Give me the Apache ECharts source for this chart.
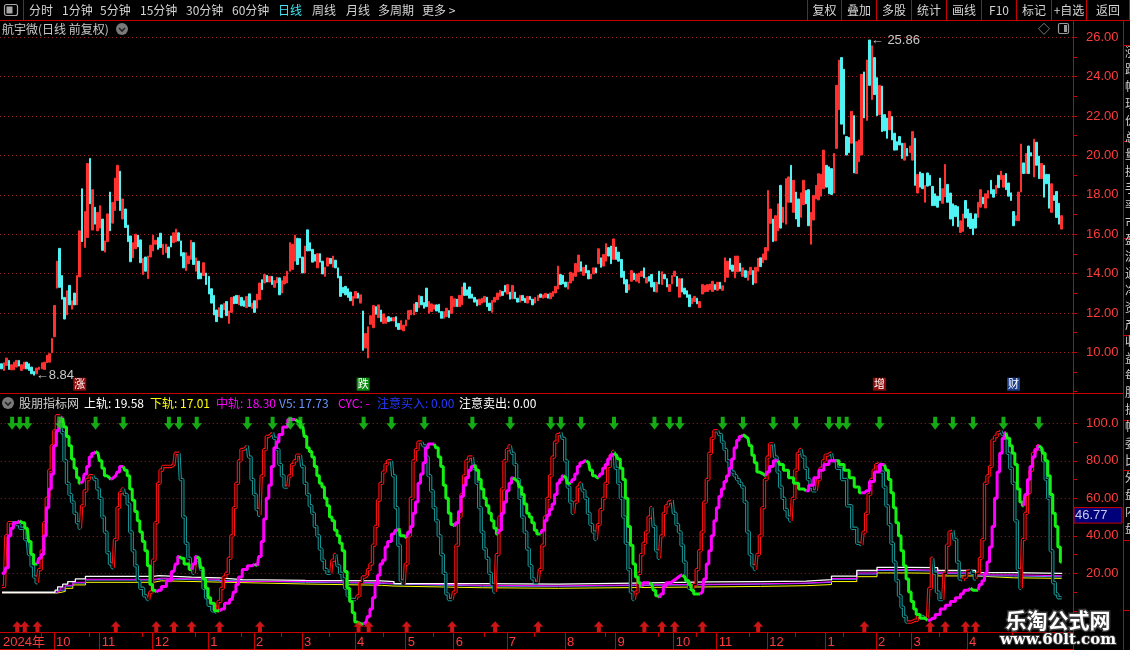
<!DOCTYPE html>
<html>
<head>
<meta charset="utf-8">
<title>航宇微 日线</title>
<style>
html,body{margin:0;padding:0;background:#000;overflow:hidden;}
#main{width:1130px;height:650px;}
</style>
</head>
<body>
<div id="main"></div>
<script src="https://cdn.jsdelivr.net/npm/echarts@6.0.0/dist/echarts.min.js"></script>
<script>
// 日K：每根 [开盘, 收盘]
var candles = [
[9.42,9.16],[9.08,9.47],[9.33,9.71],[9.59,9.13],[9.11,9.37],[9.11,9.50],[9.25,9.59],[9.59,9.30],[9.08,9.37],[9.16,9.50],
[9.50,9.16],[9.42,9.08],[9.25,8.91],[9.03,8.84],[8.91,9.20],[9.13,9.25],[9.16,9.47],[9.13,9.50],[9.47,9.85],[9.50,9.93],
[9.97,10.70],[10.79,12.38],[13.26,14.63],[15.28,13.30],[13.90,12.70],[12.79,11.69],[11.90,13.13],[13.40,12.41],[12.19,12.62],[13.01,12.41],
[12.41,13.90],[13.83,16.17],[18.31,15.62],[15.32,17.15],[15.83,19.59],[19.85,17.54],[16.21,18.26],[17.37,16.51],[16.17,17.11],[16.31,17.45],
[16.77,15.18],[15.09,15.66],[15.62,17.03],[18.14,16.17],[16.56,17.62],[17.20,18.85],[17.71,19.50],[19.20,17.20],[16.77,17.79],[17.28,16.34],
[16.46,15.62],[15.91,14.60],[14.80,15.57],[15.26,16.00],[15.95,15.35],[15.71,14.55],[13.95,14.77],[14.84,14.12],[13.74,14.89],[14.84,15.44],
[15.15,15.95],[15.49,15.69],[15.83,15.23],[16.05,15.32],[14.97,15.49],[15.06,15.49],[15.35,14.80],[15.91,15.35],[15.57,16.07],[15.62,16.26],
[16.07,15.66],[15.66,14.89],[15.06,14.29],[14.15,15.06],[14.50,14.89],[14.72,15.69],[15.57,14.46],[14.12,14.80],[14.63,13.73],[14.03,13.73],
[13.90,14.55],[14.03,13.44],[13.86,12.96],[13.23,12.50],[12.89,11.90],[12.15,11.56],[11.81,12.27],[12.41,11.76],[12.15,12.48],[12.58,11.86],
[11.47,12.10],[12.03,12.79],[12.84,12.46],[12.89,12.48],[12.41,12.89],[12.79,12.36],[12.62,12.33],[12.27,12.84],[12.97,12.33],[12.24,12.50],
[12.62,12.03],[12.24,12.96],[12.67,13.52],[13.69,13.18],[13.52,13.95],[13.91,13.57],[13.57,13.86],[13.86,13.44],[13.30,13.64],[13.52,13.81],
[13.78,12.92],[13.01,13.64],[13.47,13.86],[13.52,14.12],[14.12,15.57],[14.21,15.49],[14.63,15.95],[15.79,14.46],[15.78,14.80],[14.84,14.03],
[14.03,15.40],[16.22,15.15],[15.57,15.15],[15.23,14.58],[14.97,14.63],[14.29,15.01],[15.01,14.58],[14.63,13.98],[13.86,14.32],[14.38,14.80],
[14.77,14.50],[14.32,14.89],[14.68,14.29],[14.29,13.78],[13.86,12.84],[13.30,13.01],[13.35,12.92],[13.23,12.79],[13.06,12.62],[12.38,12.84],
[12.75,13.09],[13.01,12.75],[12.50,12.92],[12.10,10.10],[10.22,10.96],[9.71,11.30],[11.42,11.86],[11.25,12.38],[12.32,11.93],[11.76,12.41],
[12.15,11.56],[11.47,11.95],[11.47,11.76],[11.81,11.56],[11.76,11.59],[11.59,11.76],[11.81,11.30],[11.47,11.16],[11.16,11.61],[11.09,11.38],
[11.35,11.64],[11.68,12.12],[11.90,12.15],[11.90,12.46],[12.53,12.07],[12.27,12.89],[12.84,12.41],[12.53,12.24],[13.26,12.32],[11.98,12.58],
[12.07,12.46],[12.19,12.41],[12.41,12.10],[12.44,12.03],[12.07,11.73],[11.73,12.07],[11.81,12.24],[12.12,11.76],[11.98,12.84],[12.32,12.72],
[12.70,12.32],[12.32,12.89],[12.41,13.32],[13.52,12.89],[13.18,12.89],[13.32,12.75],[12.96,12.75],[12.79,12.55],[12.67,12.36],[12.41,12.70],
[12.50,12.75],[12.55,12.84],[12.80,12.32],[12.50,12.12],[12.03,12.63],[12.55,12.79],[12.67,13.01],[12.84,13.15],[13.09,12.89],[13.40,13.06],
[12.96,13.44],[13.06,12.70],[12.72,13.40],[13.06,12.72],[12.75,12.55],[12.55,12.89],[12.89,12.63],[12.75,12.53],[12.50,12.84],[12.84,12.67],
[12.70,12.41],[12.50,12.79],[12.62,12.89],[12.96,12.79],[12.75,12.92],[12.79,12.99],[12.96,12.75],[12.72,13.01],[12.84,13.09],[13.01,13.35],
[13.21,14.38],[13.95,13.44],[13.91,13.47],[13.57,13.32],[13.21,13.57],[13.52,14.07],[13.64,14.03],[13.86,14.51],[14.09,14.94],[14.60,14.12],
[13.91,14.32],[14.43,14.03],[14.15,13.73],[13.73,13.98],[13.98,14.29],[14.29,14.03],[14.50,15.26],[14.80,14.32],[14.38,14.97],[14.63,15.52],
[15.32,14.89],[15.40,14.50],[14.72,15.76],[15.35,14.72],[15.09,14.63],[14.72,13.81],[14.12,13.47],[13.69,13.04],[13.16,13.44],[13.61,14.15],
[14.03,13.69],[13.61,13.98],[13.52,14.03],[13.86,14.12],[14.29,13.78],[13.52,13.81],[13.86,13.61],[13.95,13.32],[13.56,13.09],[13.06,13.56],
[14.12,13.47],[13.44,14.09],[13.95,13.73],[13.74,13.32],[13.09,13.44],[13.47,13.90],[13.86,14.12],[13.86,13.35],[12.80,13.74],[13.74,13.06],
[13.26,12.96],[13.13,12.79],[12.92,12.32],[12.46,12.75],[12.58,12.84],[12.75,12.46],[12.27,12.58],[12.96,13.44],[13.06,13.40],[13.09,13.44],
[13.18,13.47],[13.09,13.61],[13.44,13.18],[13.15,13.56],[13.56,13.23],[13.15,13.38],[13.57,14.80],[13.81,14.63],[14.77,14.21],[14.43,14.12],
[13.78,14.89],[14.09,14.89],[14.53,14.12],[13.86,14.29],[14.15,13.81],[13.66,14.12],[13.95,14.32],[14.15,13.44],[13.52,14.32],[14.12,14.77],
[14.80,14.35],[14.55,15.00],[14.70,15.32],[15.15,18.22],[16.55,17.28],[16.77,15.62],[15.66,16.94],[16.17,17.54],[18.48,16.31],[16.60,17.37],
[16.51,18.82],[17.62,18.91],[19.50,17.62],[17.11,18.74],[18.14,16.77],[17.79,16.39],[16.86,18.10],[17.50,18.74],[18.22,17.54],[18.26,16.43],
[15.49,17.11],[16.72,17.97],[17.79,18.48],[17.74,19.07],[17.93,19.04],[18.31,20.27],[19.50,18.39],[19.42,18.05],[19.33,18.02],[18.09,20.10],
[20.36,23.56],[22.32,24.84],[24.97,21.59],[24.38,21.08],[20.96,20.02],[20.92,20.14],[20.62,22.24],[22.02,19.11],[19.08,20.70],[19.68,20.79],
[20.02,24.12],[24.24,21.90],[21.78,24.85],[25.86,23.56],[22.84,25.57],[24.97,23.09],[23.95,22.02],[22.07,23.56],[23.52,21.21],[22.07,21.25],
[21.90,20.87],[21.30,22.24],[21.98,20.79],[21.13,20.27],[20.70,20.27],[20.96,20.53],[20.62,19.85],[19.76,20.62],[20.36,19.97],[20.14,20.48],
[19.76,21.21],[20.87,18.48],[18.09,19.04],[19.16,18.39],[19.08,18.31],[17.62,18.48],[19.11,18.44],[18.99,18.48],[18.43,17.45],[18.05,17.45],
[17.93,17.37],[18.85,17.71],[17.57,18.31],[17.89,19.54],[18.53,17.62],[18.09,16.77],[17.54,16.43],[17.45,16.89],[17.40,16.38],[16.09,16.68],
[16.14,17.03],[17.71,16.82],[17.28,16.38],[17.06,16.29],[16.77,15.97],[17.03,16.31],[16.85,17.62],[17.37,18.26],[17.88,17.54],[17.33,18.05],
[17.83,18.22],[18.74,18.05],[18.26,17.88],[18.05,18.48],[18.99,18.36],[18.77,19.21],[18.39,18.99],[19.08,18.26],[18.60,17.93],[18.10,17.71],
[17.15,16.43],[16.68,16.94],[16.68,18.14],[18.14,20.58],[19.62,19.08],[19.08,20.10],[20.48,19.08],[20.14,19.97],[18.91,20.82],[20.67,19.50],
[19.97,18.82],[18.82,19.59],[19.50,17.88],[19.04,18.56],[19.04,17.32],[17.11,18.56],[17.97,17.71],[18.17,16.85],[17.57,16.51],[16.26,16.94]
];
var barCount = 424;

// 月份刻度 [K线序号, 文字]
var monthTicks = [[0,'2024年'],[21,'10'],[39,'11'],[60,'12'],[82,'1'],[100,'2'],[119,'3'],[140,'4'],[160,'5'],[179,'6'],
  [200,'7'],[223,'8'],[243,'9'],[266,'10'],[283,'11'],[303,'12'],[326,'1'],[346,'2'],[360,'3'],[382,'4']];
var minorTicks = [16,35,56,77,95,111,130,151,171,191,211,239,260,275,296,314,333,355,371,400];

// 图上的事件标记
var events = [[31,'涨'],[143,'跌'],[347,'增'],[400,'财']];

// 指标：慢线（粗线，升紫降绿） [序号, 值]
var slowLine = [[0,20],[1,20],[2,23],[3,40],[4,44],[5,47],[7,48],[8,47],[10,44],[11,37],[12,30],[13,25],[14,25],[15,28],[16,30],[17,40],[18,55],[19,65],[20,73],[21,88],[22,96],[23,101],[24,103],[25,98],[26,93],[27,88],[28,81],[29,76],[30,71],[31,68],[32,69],[33,73],[34,77],[35,82],[36,84],[37,85],[38,84],[39,80],[40,76],[41,72],[42,71],[43,70],[44,71],[45,72],[46,74],[47,77],[48,77],[49,75],[50,72],[51,65],[52,59],[53,53],[54,48],[55,42],[56,37],[57,32],[58,24],[59,14],[60,11],[61,10],[62,11],[64,13],[66,16],[68,21],[69,25],[70,29],[71,28],[73,25],[75,22],[76,25],[77,29],[78,28],[79,23],[80,17],[81,12],[82,7],[83,4],[85,0],[86,0],[87,1],[89,4],[91,6],[92,10],[93,14],[94,18],[96,22],[98,24],[100,25],[101,24],[102,29],[103,37],[104,49],[105,60],[106,67],[107,77],[108,87],[109,90],[110,94],[112,98],[114,102],[116,102],[117,101],[119,98],[120,93],[121,87],[122,85],[123,82],[124,77],[125,72],[126,68],[127,66],[128,60],[129,56],[130,50],[131,48],[132,43],[133,40],[134,36],[135,32],[136,21],[137,12],[138,5],[139,-1],[140,-6],[141,-7],[143,-7],[144,-6],[145,-3],[146,1],[147,7],[148,14],[149,19],[150,25],[151,27],[152,34],[153,37],[155,41],[156,43],[157,44],[158,40],[160,39],[161,42],[162,45],[163,52],[164,58],[165,68],[166,73],[167,79],[168,87],[169,89],[171,89],[172,87],[173,82],[174,77],[175,67],[176,60],[177,52],[178,46],[179,45],[180,47],[181,53],[182,61],[183,67],[184,71],[185,75],[186,77],[187,78],[188,75],[189,70],[190,65],[191,60],[192,56],[193,52],[194,48],[195,44],[196,41],[197,43],[198,52],[199,58],[200,64],[201,68],[202,71],[203,70],[204,69],[205,66],[206,62],[207,57],[208,52],[209,50],[210,47],[211,43],[212,41],[213,41],[214,43],[215,48],[216,51],[217,54],[218,57],[219,62],[220,68],[221,70],[222,72],[223,71],[224,68],[225,68],[226,70],[227,73],[228,77],[229,79],[230,80],[231,80],[232,79],[233,75],[234,72],[235,71],[236,71],[237,73],[238,76],[239,78],[240,81],[241,83],[242,84],[243,83],[244,81],[245,76],[246,70],[247,60],[248,45],[249,35],[250,25],[251,18],[252,15],[253,13],[254,15],[256,15],[257,14],[258,11],[259,8],[260,7],[261,9],[262,13],[263,15],[264,15],[265,16],[266,17],[267,18],[268,19],[269,19],[270,18],[271,16],[272,14],[273,11],[274,9],[276,9],[277,10],[278,17],[279,25],[280,32],[281,40],[282,48],[283,55],[284,61],[285,65],[286,69],[287,72],[288,76],[289,81],[290,87],[291,91],[292,93],[293,94],[294,93],[295,92],[296,88],[297,83],[298,79],[299,74],[300,73],[302,72],[303,74],[304,77],[306,80],[307,80],[308,78],[310,75],[312,71],[314,68],[316,65],[318,64],[320,67],[322,71],[324,75],[326,78],[328,80],[330,80],[332,78],[334,75],[336,71],[338,66],[340,63],[342,64],[344,69],[346,74],[348,78],[349,78],[350,75],[351,70],[352,63],[353,55],[354,47],[355,40],[356,32],[357,24],[358,17],[359,10],[360,5],[361,1],[362,-2],[364,-4],[366,-5],[368,-4],[370,-2],[372,1],[374,3],[376,5],[378,7],[380,9],[381,11],[383,12],[384,11],[386,11],[387,14],[388,16],[389,20],[390,26],[391,34],[392,45],[393,60],[394,74],[395,84],[396,92],[397,95],[398,92],[399,88],[400,84],[401,78],[402,65],[403,58],[404,56],[405,62],[406,70],[407,77],[408,82],[409,86],[410,88],[411,87],[412,84],[413,80],[414,72],[415,62],[416,52],[417,45],[418,34],[419,26]];

// 指标：快线（空心线，升红降青） [序号, 值]
var fastLine = [[0,13],[1,13],[2,40],[3,47],[4,47],[6,46],[8,44],[10,38],[11,30],[12,24],[13,18],[14,15],[15,22],[16,32],[17,47],[18,60],[19,75],[20,88],[21,96],[22,104],[23,104],[24,95],[25,80],[26,68],[27,62],[28,58],[29,52],[30,47],[31,44],[32,56],[33,64],[34,70],[35,72],[36,72],[37,70],[38,65],[39,60],[40,50],[41,42],[42,31],[43,25],[44,23],[45,38],[46,55],[47,63],[48,65],[49,62],[50,57],[51,42],[52,32],[53,24],[54,16],[55,12],[57,8],[58,6],[59,10],[60,27],[61,47],[62,68],[63,75],[64,77],[66,77],[68,78],[69,84],[70,84],[71,70],[72,50],[73,36],[74,28],[75,22],[76,20],[77,27],[78,28],[79,22],[80,12],[81,7],[82,3],[84,0],[85,-1],[86,5],[87,12],[88,18],[89,20],[90,28],[91,40],[92,55],[93,68],[94,80],[95,86],[96,87],[97,88],[98,82],[99,70],[100,62],[101,54],[102,51],[103,72],[104,86],[105,93],[106,94],[107,95],[108,92],[109,86],[110,78],[111,72],[112,66],[113,66],[114,72],[115,78],[116,80],[117,83],[118,83],[119,77],[120,68],[121,62],[122,56],[123,52],[124,45],[125,40],[126,33],[127,27],[128,22],[129,20],[130,20],[131,27],[132,30],[133,24],[134,20],[135,17],[136,12],[137,8],[138,6],[140,6],[141,8],[142,15],[143,18],[144,19],[145,22],[146,25],[147,35],[148,45],[149,59],[150,68],[151,74],[152,78],[153,80],[154,80],[155,72],[156,55],[157,35],[158,16],[159,14],[160,25],[161,40],[162,60],[163,80],[164,86],[165,90],[166,90],[167,88],[168,82],[169,72],[170,64],[171,55],[172,48],[173,40],[174,30],[175,20],[176,9],[177,6],[178,6],[179,10],[180,35],[181,50],[182,62],[183,72],[184,80],[185,82],[186,82],[187,76],[188,68],[189,55],[190,42],[191,33],[192,28],[193,20],[194,14],[195,10],[196,30],[197,50],[198,65],[199,80],[200,86],[201,88],[202,84],[203,78],[204,70],[205,60],[206,50],[207,42],[208,33],[209,24],[210,17],[211,15],[212,15],[213,22],[214,35],[215,50],[216,60],[217,72],[218,82],[219,90],[220,94],[221,95],[222,92],[223,80],[224,66],[225,58],[226,52],[227,58],[228,66],[229,68],[230,64],[231,60],[232,52],[233,46],[234,42],[235,38],[236,46],[237,54],[238,60],[239,68],[240,77],[241,83],[242,85],[243,76],[244,68],[245,60],[246,50],[247,36],[248,22],[249,10],[250,6],[251,10],[252,20],[253,30],[254,36],[255,42],[256,50],[257,55],[258,45],[259,32],[260,28],[261,40],[262,52],[263,56],[264,58],[265,59],[266,52],[267,46],[268,42],[269,35],[270,26],[271,16],[272,12],[273,11],[274,14],[275,22],[276,32],[277,42],[278,58],[279,70],[280,84],[281,92],[282,96],[283,96],[284,94],[285,90],[286,86],[287,80],[288,76],[289,74],[290,72],[291,70],[292,68],[293,66],[294,58],[295,42],[296,30],[297,24],[298,22],[299,30],[300,40],[301,55],[302,70],[303,82],[304,89],[305,89],[306,82],[307,74],[308,66],[309,60],[310,54],[311,50],[312,48],[313,60],[314,75],[315,84],[316,86],[317,82],[318,76],[319,70],[320,66],[321,64],[322,64],[323,70],[324,76],[325,80],[326,83],[327,84],[328,84],[329,80],[331,76],[333,70],[335,56],[337,44],[339,36],[340,35],[341,42],[342,52],[343,62],[344,70],[345,75],[346,78],[347,79],[348,74],[349,66],[350,56],[351,46],[352,36],[353,26],[354,16],[355,8],[356,2],[357,-3],[358,-6],[361,-5],[363,-3],[365,-4],[366,-4],[367,12],[368,28],[369,20],[370,10],[371,6],[372,6],[373,20],[374,35],[375,42],[376,43],[377,38],[378,26],[379,17],[380,16],[381,18],[382,21],[383,22],[384,20],[385,17],[386,20],[387,28],[388,38],[389,68],[390,72],[391,77],[392,91],[393,93],[394,95],[395,96],[396,94],[397,92],[398,84],[399,76],[400,68],[401,48],[402,22],[403,12],[404,38],[405,52],[406,63],[407,75],[408,84],[409,86],[410,88],[411,86],[412,80],[413,70],[414,60],[415,32],[416,15],[417,9],[418,7],[419,7]];

// 通道线 [序号, 值]
var upperBand = [[0,9.9],[20,9.9],[21,11],[22,12.8],[24,14.2],[26,15.6],[29,17],[33,18.4],[60,18.8],[62,18],[75,17.6],[86,16.6],[95,16.2],[120,16.0],[150,15.6],[155,14.5],[190,14.2],[220,14.8],[250,15.4],[280,15.6],[300,15.8],[318,16.6],[328,18.5],[338,21.5],[346,23.2],[358,23.0],[370,21.5],[385,20.4],[400,20.0],[419,19.58]];
var midBand = [[0,9.7],[20,9.7],[21,10.5],[23,12.2],[25,13.6],[28,15.2],[33,16.8],[60,17.4],[63,16.8],[86,15.6],[120,15.0],[150,14.6],[155,13.6],[190,13.3],[220,13.8],[250,14.4],[300,14.8],[318,15.5],[328,17.2],[338,20.2],[346,22.0],[358,21.7],[370,20.3],[385,19.2],[400,18.7],[419,18.30]];
var v5Band = [[0,9.6],[20,9.6],[22,11],[25,13.2],[28,14.8],[33,16.4],[60,17.0],[64,16.2],[86,15.2],[120,14.6],[150,14.2],[156,13.2],[190,13.0],[220,13.5],[250,14.2],[300,14.6],[318,15.2],[328,16.8],[338,19.6],[346,21.5],[358,21.2],[370,19.8],[385,18.6],[400,18.1],[419,17.73]];
var lowerBand = [[0,9.5],[20,9.5],[22,10.3],[25,12],[28,13.8],[33,15.2],[60,16.0],[63,15.3],[86,14.3],[120,13.6],[150,13.2],[155,12.3],[190,12.0],[220,12.4],[250,13.0],[300,13.4],[318,14.0],[328,15.6],[338,18.2],[346,20.2],[358,20.0],[370,18.6],[385,17.6],[400,17.3],[419,17.01]];

// 买卖箭头所在K线
var sellSignals = [4,7,10,23,37,48,66,70,77,97,107,114,118,143,154,167,186,201,217,221,229,242,258,264,268,285,293,305,314,327,331,334,347,369,376,384,396,410];
var buySignals = [6,9,14,45,61,68,75,86,102,141,145,160,178,195,212,236,254,261,266,277,299,341,367,373,381,385];

var cursorValue = 46.77;

// ---------------------------------------------------------------
var RED = '#c80000', LBL = '#ff3c3c', DOT = '#9c1c1c';
var NUMFONT = '"Liberation Sans","Noto Sans CJK SC",sans-serif';
var CJKFONT = '"Noto Sans CJK SC","Liberation Sans",sans-serif';

var cats = [];
for (var i = 0; i < barCount; i++) cats.push(String(i));

var kData = candles.map(function (c) {
  return [c[0], c[1], Math.min(c[0], c[1]), Math.max(c[0], c[1])];
});

// 最高、最低点
var lowIdx = 0, highIdx = 0;
kData.forEach(function (k, idx) {
  if (k[2] < kData[lowIdx][2]) lowIdx = idx;
  if (k[3] > kData[highIdx][3]) highIdx = idx;
});

var tickMap = {};
monthTicks.forEach(function (m) { tickMap[m[0]] = m[1]; });

var eventColor = { '涨': '#8e0b0b', '跌': '#0b8a10', '增': '#8e0b0b', '财': '#1b3f8f' };

// 按升降切段
function splitRuns(pts) {
  var out = [], cur = [pts[0]], dir = 0;
  for (var k = 1; k < pts.length; k++) {
    var d = pts[k][1] > pts[k - 1][1] ? 1 : (pts[k][1] < pts[k - 1][1] ? -1 : dir);
    if (d === 0) d = 1;
    if (dir !== 0 && d !== dir) {
      out.push({ up: dir > 0, pts: cur });
      cur = [pts[k - 1]];
    }
    dir = d;
    cur.push(pts[k]);
  }
  out.push({ up: dir > 0, pts: cur });
  return out;
}

var series = [];

series.push({
  type: 'candlestick', xAxisIndex: 0, yAxisIndex: 0, data: kData, barWidth: 2, z: 3,
  itemStyle: { color: '#ff3030', color0: '#4ff3f3', borderColor: '#ff3030', borderColor0: '#4ff3f3', borderWidth: 1 },
  markPoint: {
    silent: true, animation: false,
    data: [
      { coord: [lowIdx, kData[lowIdx][2]], symbol: 'circle', symbolSize: 1, itemStyle: { color: 'rgba(0,0,0,0)' },
        label: { show: true, position: 'right', distance: 1, formatter: '\u2190' + kData[lowIdx][2].toFixed(2), color: '#c8c8c8', fontSize: 13, fontFamily: NUMFONT } },
      { coord: [highIdx, kData[highIdx][3]], symbol: 'circle', symbolSize: 1, itemStyle: { color: 'rgba(0,0,0,0)' },
        label: { show: true, position: 'right', distance: 1, formatter: '\u2190 ' + kData[highIdx][3].toFixed(2), color: '#c8c8c8', fontSize: 13, fontFamily: NUMFONT } }
    ].concat(events.map(function (e) {
      return { coord: [e[0], 8], symbol: 'rect', symbolSize: [13, 13], symbolOffset: [0, -7.5],
        itemStyle: { color: eventColor[e[1]] },
        label: { show: true, position: 'inside', formatter: e[1], color: '#fff', fontSize: 11, fontFamily: CJKFONT } };
    }))
  }
});

function bandSeries(data, color, w) {
  return { type: 'line', xAxisIndex: 1, yAxisIndex: 1, data: data, step: 'end', showSymbol: false, clip: false,
    lineStyle: { color: color, width: w || 1 }, z: 2, silent: true };
}
series.push(bandSeries(lowerBand, '#ffff00'));
series.push(bandSeries(v5Band, '#5a8cff'));
series.push(bandSeries(midBand, '#ff00ff'));
series.push(bandSeries(upperBand, '#ffffff', 1.3));

splitRuns(fastLine).forEach(function (r) {
  series.push({ type: 'line', xAxisIndex: 1, yAxisIndex: 1, data: r.pts, step: 'middle', showSymbol: false, clip: false, silent: true,
    lineStyle: { color: r.up ? '#ff1010' : '#168f8f', width: 3.4 }, z: 3 });
  series.push({ type: 'line', xAxisIndex: 1, yAxisIndex: 1, data: r.pts, step: 'middle', showSymbol: false, clip: false, silent: true,
    lineStyle: { color: '#000', width: 1.2 }, z: 4 });
});

splitRuns(slowLine).forEach(function (r) {
  series.push({ type: 'line', xAxisIndex: 1, yAxisIndex: 1, data: r.pts, step: 'middle', showSymbol: false, clip: false, silent: true,
    lineStyle: { color: r.up ? '#ff00ff' : '#14f014', width: 3 }, z: 5 });
});

series.push({
  type: 'scatter', xAxisIndex: 1, yAxisIndex: 1, clip: false, silent: true, z: 6,
  data: sellSignals.map(function (s) { return [s, 100]; }),
  symbol: 'path://M3,0 L7,0 L7,6 L10,6 L5,12 L0,6 L3,6 Z', symbolSize: [10, 13],
  itemStyle: { color: '#19d419' }
});
series.push({
  type: 'scatter', xAxisIndex: 1, yAxisIndex: 1, clip: false, silent: true, z: 6,
  data: buySignals.map(function (s) { return [s, -8.5]; }),
  symbol: 'path://M5,0 L10,6 L7,6 L7,12 L3,12 L3,6 L0,6 Z', symbolSize: [10, 11],
  itemStyle: { color: '#ff1a1a' }
});

var chart = echarts.init(document.getElementById('main'));
chart.setOption({
  animation: false,
  backgroundColor: '#000',
  grid: [
    { left: 0, right: 57, top: 37.3, height: 354.4 },
    { left: 0, right: 57, top: 423.3, height: 187.5 }
  ],
  xAxis: [
    { type: 'category', gridIndex: 0, data: cats, show: false },
    { type: 'category', gridIndex: 1, data: cats, position: 'bottom', offset: 22,
      axisLine: { show: false },
      axisTick: { show: false },
      axisLabel: { interval: function (idx) { return tickMap[idx] !== undefined; },
        formatter: function (v, idx) { return tickMap[idx] || ''; },
        align: 'left', margin: 3, padding: [0, 0, 0, 1], color: LBL, fontSize: 13, fontFamily: NUMFONT } }
  ],
  yAxis: [
    { type: 'value', gridIndex: 0, position: 'right', min: 8, max: 26, interval: 2,
      axisLine: { show: true, lineStyle: { color: RED } },
      axisTick: { show: true, length: 4, lineStyle: { color: RED } },
      minorTick: { show: true, splitNumber: 2, length: 4, lineStyle: { color: RED } },
      axisLabel: { color: LBL, fontSize: 13, margin: 13, fontFamily: NUMFONT,
        formatter: function (v) { return v === 8 ? '' : v.toFixed(2); } },
      splitLine: { show: true, showMinLine: false, lineStyle: { color: DOT, type: [1, 3] } } },
    { type: 'value', gridIndex: 1, position: 'right', min: 0, max: 100, interval: 20,
      axisLine: { show: true, lineStyle: { color: RED } },
      axisTick: { show: true, length: 4, lineStyle: { color: RED } },
      minorTick: { show: true, splitNumber: 2, length: 4, lineStyle: { color: RED } },
      axisLabel: { color: LBL, fontSize: 13, margin: 13, fontFamily: NUMFONT,
        formatter: function (v) { return v === 0 ? '' : (v === 100 ? '100.0' : v.toFixed(2)); } },
      splitLine: { show: true, showMinLine: false, lineStyle: { color: DOT, type: [1, 3] } } }
  ],
  series: series
});

// ---------- 界面框架 ----------
function txt(x, y, s, color, size, font, align) {
  return { type: 'text', x: x, y: y, silent: true, z: 20,
    style: { text: s, fill: color, font: (size || 12) + 'px ' + (font || CJKFONT), align: align || 'left', verticalAlign: 'middle' } };
}
function ln(x1, y1, x2, y2, color, w) {
  return { type: 'line', silent: true, z: 20, shape: { x1: x1, y1: y1, x2: x2, y2: y2 }, style: { stroke: color || RED, lineWidth: w || 1 } };
}
function dropIcon(cx, cy) {
  return [
    { type: 'circle', silent: true, z: 20, shape: { cx: cx, cy: cy, r: 6 }, style: { fill: '#7a7a7a' } },
    { type: 'polyline', silent: true, z: 21, shape: { points: [[cx - 3, cy - 1], [cx, cy + 2], [cx + 3, cy - 1]] }, style: { stroke: '#222', lineWidth: 1.6, fill: null } }
  ];
}

var g = [];
// 顶部工具栏
g.push({ type: 'rect', silent: true, z: 20, shape: { x: 4.5, y: 4.5, width: 13, height: 11, r: 2 }, style: { fill: null, stroke: '#a8a8a8', lineWidth: 1.2 } });
g.push({ type: 'rect', silent: true, z: 20, shape: { x: 6.5, y: 6.5, width: 6, height: 7 }, style: { fill: '#a8a8a8' } });
g.push(ln(23.5, 0, 23.5, 20));
g.push(ln(0, 20.5, 1130, 20.5));
var tabs = [[29, '分时'], [62, '1分钟'], [100, '5分钟'], [140, '15分钟'], [186, '30分钟'], [232, '60分钟'], [278, '日线'], [312, '周线'], [346, '月线'], [378, '多周期'], [422, '更多 >']];
tabs.forEach(function (t) { g.push(txt(t[0], 10, t[1], t[1] === '日线' ? '#3fe6f5' : '#d4d4d4', 12)); });
var btnEdges = [807.5, 841.5, 876.5, 911.5, 946.5, 981.5, 1016.5, 1051.5, 1086.5, 1129.5];
var btnText = ['复权', '叠加', '多股', '统计', '画线', 'F10', '标记', '+自选', '返回'];
btnEdges.forEach(function (x) { g.push(ln(x, 0, x, 20)); });
btnText.forEach(function (s, k) { g.push(txt((btnEdges[k] + btnEdges[k + 1]) / 2, 10, s, '#d4d4d4', 12, CJKFONT, 'center')); });

// 标题行
g.push(txt(2, 29, '航宇微(日线 前复权)', '#c8c8c8', 12));
g = g.concat(dropIcon(122, 29));
g.push(txt(1044, 29, '\u25c7', '#9a9a9a', 12, CJKFONT, 'center'));
g.push({ type: 'rect', silent: true, z: 20, shape: { x: 1058.5, y: 23.5, width: 10, height: 10, r: 1.5 }, style: { fill: null, stroke: '#9a9a9a', lineWidth: 1.2 } });
g.push({ type: 'rect', silent: true, z: 20, shape: { x: 1064, y: 25, width: 3, height: 7 }, style: { fill: '#9a9a9a' } });

// 面板分隔线与右侧框
g.push(ln(1073.5, 21, 1073.5, 650));
g.push(ln(1123.5, 21, 1123.5, 650));
g.push(ln(0, 393.5, 1123, 393.5));
g.push(ln(0, 632.5, 1073, 632.5));
g.push(ln(0, 649.5, 1073, 649.5));
[45.5, 141.5, 238.5, 335.5, 420.5, 470.5, 540.5, 610.5].forEach(function (y) { g.push(ln(1123, y, 1130, y)); });
var sideChars = '涨跌幅现价总量换手率市盈流通净资产收益每股振幅委比外盘内盘';
for (var k = 0; k < sideChars.length && 52 + k * 17 < 645; k++) {
  g.push(txt(1125, 52 + k * 17, sideChars[k], '#cfcfcf', 12));
}

// 时间轴：月份分隔线和小刻度（按类目轴换算位置）
var bw = chart.convertToPixel({ xAxisIndex: 1 }, 1) - chart.convertToPixel({ xAxisIndex: 1 }, 0);
var axisY = 633;
monthTicks.forEach(function (m) {
  if (m[0] === 0) return;
  var x = Math.round(chart.convertToPixel({ xAxisIndex: 1 }, m[0]) - bw / 2) + 0.5;
  g.push(ln(x, axisY, x, 650));
});
minorTicks.forEach(function (m) {
  var x = Math.round(chart.convertToPixel({ xAxisIndex: 1 }, m) - bw / 2) + 0.5;
  g.push(ln(x, axisY, x, axisY + 4));
});

// 指标标题行
g = g.concat(dropIcon(8, 403));
var last = function (a) { return a[a.length - 1][1].toFixed(2); };
g.push(txt(19, 403, '股朋指标网', '#cfcfcf', 12));
g.push(txt(84, 403, '上轨: ' + last(upperBand), '#ffffff', 12));
g.push(txt(150, 403, '下轨: ' + last(lowerBand), '#ffff00', 12));
g.push(txt(216, 403, '中轨: ' + last(midBand), '#ff00ff', 12));
g.push(txt(279, 403, 'V5: ' + last(v5Band), '#6a96ff', 12));
g.push(txt(338, 403, 'CYC: -', '#ff00ff', 12));
g.push(txt(377, 403, '注意买入: 0.00', '#2638ff', 12));
g.push(txt(459, 403, '注意卖出: 0.00', '#ffffff', 12));

// 指标当前值框
var cy = chart.convertToPixel({ yAxisIndex: 1 }, cursorValue);
g.push({ type: 'rect', silent: true, z: 20, shape: { x: 1074, y: cy - 15.5, width: 48, height: 15.5 }, style: { fill: '#00007a', stroke: RED, lineWidth: 1 } });
g.push(txt(1075, cy - 7.5, cursorValue.toFixed(2), '#c8c8e8', 13, NUMFONT));

// 水印
g.push({ type: 'text', x: 1058, y: 620, silent: true, z: 30,
  style: { text: '乐淘公式网', fill: '#ffffff', stroke: '#3a3a3a', lineWidth: 3, font: 'bold 21px ' + CJKFONT, align: 'center', verticalAlign: 'middle' } });
g.push({ type: 'text', x: 1058, y: 640, silent: true, z: 30,
  style: { text: 'www.60lt.com', fill: '#ffffff', stroke: '#3a3a3a', lineWidth: 2, font: 'bold 15px "DejaVu Serif","Liberation Serif",serif', align: 'center', verticalAlign: 'middle' } });

chart.setOption({ graphic: g });
</script>
</body>
</html>
